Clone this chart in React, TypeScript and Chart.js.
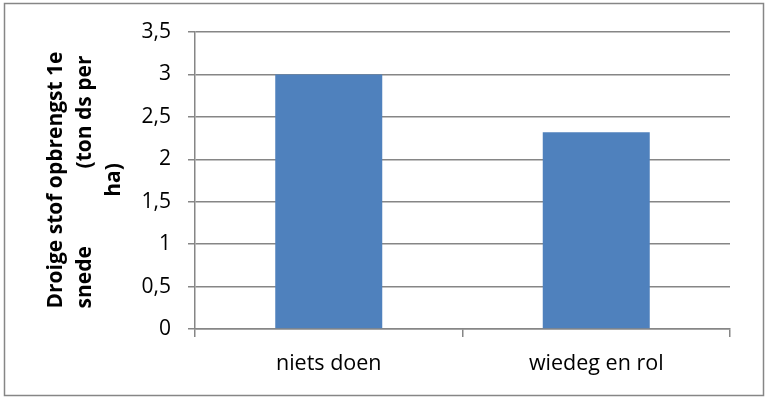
import { useEffect, useRef } from "react";
import Chart from "chart.js/auto";

// data
const categories = ["niets doen", "wiedeg en rol"];
const yieldValues = [3.0, 2.32];
const yMin = 0;
const yMax = 3.5;
const yStep = 0.5;
const yTitleLines = ["Droige stof opbrengst 1e", "snede", "(ton ds per", "ha)"];

const grey = "#868686";
const font = "Open Sans";

// draws the frame round the chart and the wrapped, rotated y title
const framePlugin = {
  id: "frame",
  beforeDraw(chart: Chart) {
    const ctx = chart.ctx;
    ctx.save();
    ctx.fillStyle = "#fff";
    ctx.fillRect(0, 0, chart.width, chart.height);
    ctx.strokeStyle = grey;
    ctx.lineWidth = 1.5;
    ctx.strokeRect(4.5, 3.5, 759, 392);
    ctx.restore();
  },
  afterDraw(chart: Chart) {
    const ctx = chart.ctx;
    const cy = 180;
    ctx.save();
    ctx.fillStyle = "#000";
    ctx.font = `bold 21px "${font}"`;
    ctx.textBaseline = "alphabetic";
    const half = ctx.measureText(yTitleLines[0]).width / 2;

    const line = (x: number, fn: () => void) => {
      ctx.save();
      ctx.translate(x, cy);
      ctx.rotate(-Math.PI / 2);
      fn();
      ctx.restore();
    };
    line(62, () => {
      ctx.textAlign = "center";
      ctx.fillText(yTitleLines[0], 0, 0);
    });
    line(91, () => {
      ctx.textAlign = "left";
      ctx.fillText(yTitleLines[1], -half, 0);
      ctx.textAlign = "right";
      ctx.fillText(yTitleLines[2], half - 4, 0);
    });
    line(120, () => {
      ctx.textAlign = "center";
      ctx.fillText(yTitleLines[3], 0, 0);
    });
    ctx.restore();
  },
};

export default function App() {
  const chartRef = useRef<HTMLCanvasElement | null>(null);

  useEffect(() => {
    const canvas = chartRef.current;
    if (!canvas) return;
    const ctx = canvas.getContext("2d");
    if (!ctx) return;

    const myChart = new Chart(ctx, {
      type: "bar",
      data: {
        labels: categories,
        datasets: [
          {
            label: "opbrengst",
            data: yieldValues,
            backgroundColor: "#4F81BD",
            borderWidth: 0,
            barPercentage: 0.8,
            categoryPercentage: 0.5,
          },
        ],
      },
      options: {
        responsive: false,
        animation: false,
        devicePixelRatio: 1,
        layout: { padding: { left: 0, top: 32, right: 35, bottom: 0 } },
        plugins: {
          legend: { display: false },
          title: { display: false },
          tooltip: { enabled: false },
        },
        scales: {
          x: {
            afterFit: (s: any) => {
              s.height = 72;
            },
            grid: {
              offset: true,
              drawOnChartArea: false,
              drawTicks: true,
              tickLength: 8,
              color: grey,
              lineWidth: 1.5,
            },
            border: { display: true, color: grey, width: 1.5 },
            ticks: {
              color: "#000",
              padding: 14,
              font: { family: font, size: 21.5 },
            },
          },
          y: {
            min: yMin,
            max: yMax,
            afterFit: (s: any) => {
              s.width = 195;
            },
            grid: {
              color: grey,
              lineWidth: 1.5,
              tickLength: 7,
            },
            border: { display: true, color: grey, width: 1.5 },
            ticks: {
              stepSize: yStep,
              color: "#000",
              padding: 17,
              font: { family: font, size: 21 },
              callback: (v: any) => String(v).replace(".", ","),
            },
          },
        },
      },
      plugins: [framePlugin],
    });

    return () => {
      myChart.destroy();
    };
  }, []);

  return (
    <div style={{ position: "absolute", left: 0, top: 0, width: 765, height: 401 }}>
      <canvas ref={chartRef} width={765} height={401}></canvas>
    </div>
  );
}
